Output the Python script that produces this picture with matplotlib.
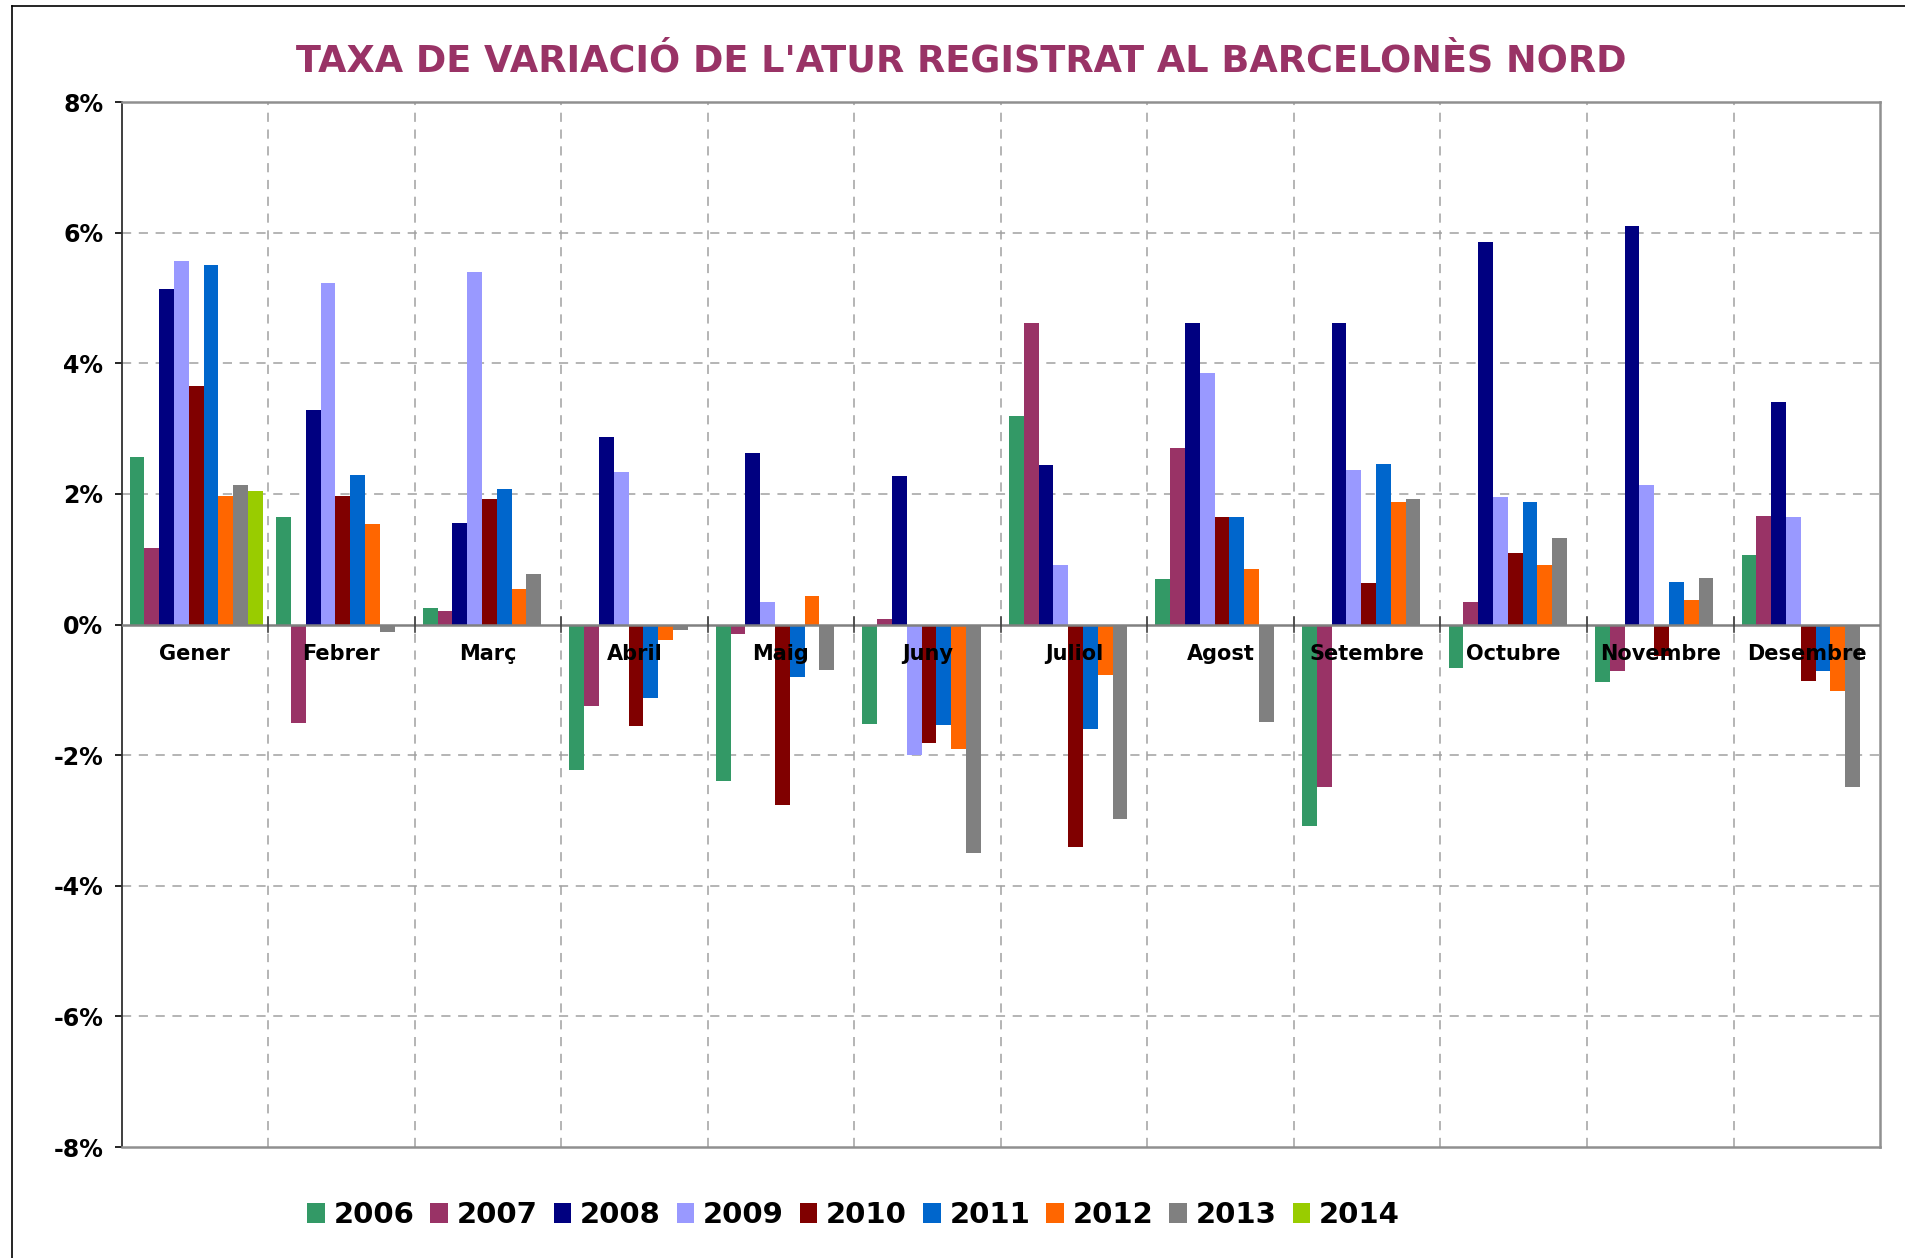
import matplotlib
matplotlib.use("Agg")
import matplotlib.pyplot as plt
from matplotlib.lines import Line2D
from matplotlib.patches import Patch
import numpy as np

# %%
months = ["Gener", "Febrer", "Març", "Abril", "Maig", "Juny", "Juliol",
          "Agost", "Setembre", "Octubre", "Novembre", "Desembre"]
years = ["2006", "2007", "2008", "2009", "2010", "2011", "2012", "2013", "2014"]
colors = ["#339966", "#993366", "#000080", "#9999FF", "#800000",
          "#0066CC", "#FF6600", "#808080", "#99CC00"]

y2006 = [2.57, 1.64, 0.25, -2.23, -2.40, -1.52, 3.20, 0.69, -3.09, -0.67, -0.88, 1.06]
y2007 = [1.17, -1.51, 0.21, -1.25, -0.15, 0.09, 4.61, 2.71, -2.49, 0.35, -0.71, 1.66]
y2008 = [5.13, 3.29, 1.56, 2.87, 2.62, 2.27, 2.44, 4.61, 4.61, 5.86, 6.10, 3.40]
y2009 = [5.56, 5.23, 5.40, 2.34, 0.35, -2.00, 0.91, 3.85, 2.37, 1.95, 2.14, 1.64]
y2010 = [3.65, 1.97, 1.92, -1.56, -2.77, -1.82, -3.40, 1.64, 0.63, 1.10, -0.48, -0.86]
y2011 = [5.51, 2.29, 2.08, -1.13, -0.80, -1.54, -1.60, 1.64, 2.46, 1.88, 0.65, -0.71]
y2012 = [1.97, 1.54, 0.54, -0.24, 0.43, -1.90, -0.78, 0.85, 1.88, 0.91, 0.37, -1.02]
y2013 = [2.14, -0.11, 0.78, -0.08, -0.69, -3.50, -2.97, -1.49, 1.92, 1.32, 0.71, -2.49]
y2014 = [2.05, None, None, None, None, None, None, None, None, None, None, None]
series = [y2006, y2007, y2008, y2009, y2010, y2011, y2012, y2013, y2014]

# %%
fig = plt.figure(figsize=(19.05, 12.58), dpi=100)
ax = fig.add_axes([0.0638, 0.0882, 0.9231, 0.8307])

x = np.arange(len(months))
bw = 0.101
for k, (vals, col) in enumerate(zip(series, colors)):
    xs = [xi + (k - 4) * bw + 0.01 for xi, v in zip(x, vals) if v is not None]
    vs = [v for v in vals if v is not None]
    ax.bar(xs, vs, width=bw, color=col, linewidth=0, zorder=3)

ax.set_xlim(-0.5, len(months) - 0.5)
ax.set_ylim(-8, 8)
ax.set_yticks(range(-8, 9, 2))
ax.set_yticklabels([f"{t}%" for t in range(-8, 9, 2)], fontsize=17, fontweight="bold")
ax.tick_params(axis="y", length=5, width=1.2, pad=8, color="black")

# vertical separators between months
for b in np.arange(0.5, len(months) - 0.5, 1):
    ax.axvline(b, color="#a0a0a0", linestyle=(0, (6, 5)), linewidth=1.1, zorder=1)
for t in range(-6, 8, 2):
    if t != 0:
        ax.axhline(t, color="#a0a0a0", linestyle=(0, (6, 5)), linewidth=1.1, zorder=1)
ax.axhline(0, color="#808080", linewidth=1.8, zorder=4)
ax.set_xticks(np.arange(0.5, len(months) - 0.5, 1))
ax.set_xticklabels([])
ax.tick_params(axis="x", length=0)
for b in np.arange(0.5, len(months) - 0.5, 1):
    ax.plot([b, b], [-0.12, 0.12], color="#404040", linewidth=1.2, zorder=5)

for i, m in enumerate(months):
    ax.text(i, -0.45, m, ha="center", va="center", fontsize=15,
            fontweight="bold", zorder=6)

for s in ["top", "right", "bottom"]:
    ax.spines[s].set_color("#909090")
    ax.spines[s].set_linewidth(1.8)
ax.spines["left"].set_color("#303030")
ax.spines["left"].set_linewidth(1.3)

fig.text(0.5045, 0.9515, "TAXA DE VARIACIÓ DE L'ATUR REGISTRAT AL BARCELONÈS NORD",
         ha="center", va="center", fontsize=26.4, fontweight="bold", color="#993366")

handles = [Patch(facecolor=c, edgecolor="none") for c in colors]
fig.legend(handles, years, loc="center", bbox_to_anchor=(0.448, 0.034), ncol=9,
           frameon=False, prop={"size": 21, "weight": "bold"},
           handlelength=0.6, handleheight=0.7, handletextpad=0.3,
           columnspacing=0.55)

# frame of the original chart area
fig.add_artist(Line2D([0.0063, 0.0063], [0, 0.9952], color="black", linewidth=1.2))
fig.add_artist(Line2D([0.0063, 1], [0.9952, 0.9952], color="black", linewidth=1.2))

fig.savefig("out.png", dpi=100)
